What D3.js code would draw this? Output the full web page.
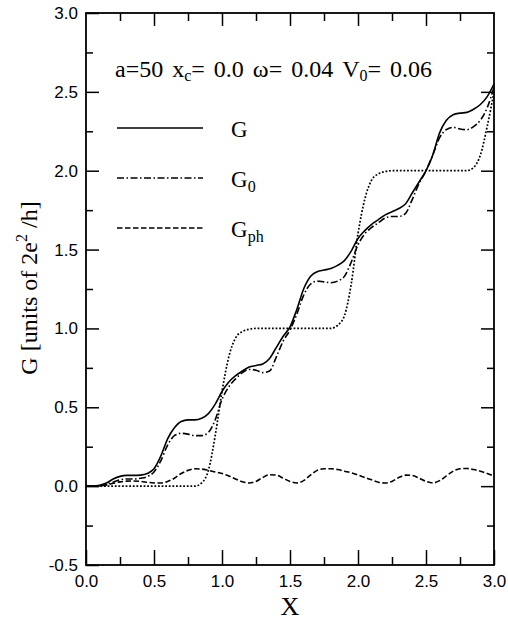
<!DOCTYPE html>
<html>
<head>
<meta charset="utf-8">
<script src="https://cdn.jsdelivr.net/npm/d3@7/dist/d3.min.js"></script>
<style>
html,body{margin:0;padding:0;background:#fff;}
svg{display:block;}
</style>
</head>
<body>
<svg id="chart" width="508" height="621"></svg>
<script>
const xValues = d3.range(0, 61).map(i => +(i * 0.05).toFixed(2));

const seriesG = [0,0,0.005,0.02,0.045,0.062,0.068,0.068,0.07,0.08,
  0.11,0.19,0.30,0.37,0.41,0.42,0.42,0.43,0.46,0.52,
  0.60,0.66,0.70,0.73,0.755,0.765,0.775,0.81,0.88,0.95,
  1.01,1.12,1.25,1.33,1.36,1.37,1.38,1.40,1.43,1.49,
  1.57,1.62,1.66,1.69,1.72,1.74,1.76,1.79,1.86,1.93,
  2.00,2.10,2.24,2.32,2.355,2.365,2.37,2.39,2.42,2.47,2.55];

const seriesG0 = [0,0,0.003,0.01,0.025,0.04,0.045,0.045,0.05,0.06,
  0.09,0.16,0.26,0.32,0.335,0.33,0.32,0.32,0.34,0.42,
  0.55,0.63,0.68,0.72,0.74,0.735,0.72,0.73,0.82,0.92,
  0.99,1.09,1.21,1.28,1.30,1.295,1.29,1.30,1.33,1.42,
  1.53,1.60,1.64,1.67,1.70,1.71,1.71,1.73,1.82,1.92,
  2.00,2.10,2.21,2.26,2.275,2.265,2.26,2.28,2.32,2.40,2.53];

const seriesGph = [0,0,0.002,0.008,0.018,0.027,0.032,0.033,0.03,0.025,
  0.02,0.02,0.03,0.05,0.08,0.10,0.11,0.108,0.10,0.09,
  0.08,0.065,0.045,0.028,0.02,0.03,0.055,0.072,0.07,0.05,
  0.03,0.02,0.035,0.07,0.10,0.11,0.11,0.105,0.095,0.085,
  0.07,0.055,0.04,0.025,0.02,0.03,0.055,0.07,0.068,0.05,
  0.03,0.02,0.035,0.065,0.095,0.11,0.112,0.105,0.095,0.08,0.065];

const seriesDotted = [0,0,0,0,0,0,0,0,0,0,
  0,0,0,0,0,0,0,0.02,0.10,0.32,
  0.60,0.82,0.94,0.98,0.995,1,1,1,1,1,
  1,1,1,1,1,1,1,1.02,1.08,1.28,
  1.60,1.82,1.94,1.98,1.995,2,2,2,2,2,
  2,2,2,2,2,2,2,2.02,2.10,2.28,2.50];

const xTicks = [0, 0.5, 1.0, 1.5, 2.0, 2.5, 3.0];
const yTicks = [-0.5, 0, 0.5, 1.0, 1.5, 2.0, 2.5, 3.0];
const xMinor = [0.25, 0.75, 1.25, 1.75, 2.25, 2.75];
const yMinor = [-0.25, 0.25, 0.75, 1.25, 1.75, 2.25, 2.75];

const legendItems = [
  {name: "G", sub: "", values: seriesG, dash: null},
  {name: "G", sub: "0", values: seriesG0, dash: "7,2.5,1.5,2.5"},
  {name: "G", sub: "ph", values: seriesGph, dash: "5.5,2.5"}
];

const L = 86, R = 494, T = 13, B = 565;
const svg = d3.select("#chart");
const x = d3.scaleLinear().domain([0, 3]).range([L, R]);
const y = d3.scaleLinear().domain([-0.5, 3]).range([B, T]);
const fmt = d => d3.format(".1f")(d).replace("\u2212", "-");

// axes
const tickFont = "'Liberation Sans', Arial, sans-serif";
svg.append("g").attr("transform", `translate(0,${B})`)
  .call(d3.axisBottom(x).tickValues(xTicks).tickFormat(fmt).tickSizeInner(-15).tickSizeOuter(0).tickPadding(10));
svg.append("g").attr("transform", `translate(0,${T})`)
  .call(d3.axisTop(x).tickValues(xTicks.slice(1, -1)).tickFormat("").tickSizeInner(-13).tickSizeOuter(0));
svg.append("g").attr("transform", `translate(${L},0)`)
  .call(d3.axisLeft(y).tickValues(yTicks).tickFormat(fmt).tickSizeInner(-13).tickSizeOuter(0).tickPadding(8));
svg.append("g").attr("transform", `translate(${R},0)`)
  .call(d3.axisRight(y).tickValues(yTicks.slice(1, -1)).tickFormat("").tickSizeInner(-13).tickSizeOuter(0));
// minor ticks
svg.append("g").attr("transform", `translate(0,${B})`)
  .call(d3.axisBottom(x).tickValues(xMinor).tickFormat("").tickSizeInner(-8).tickSizeOuter(0));
svg.append("g").attr("transform", `translate(0,${T})`)
  .call(d3.axisTop(x).tickValues(xMinor).tickFormat("").tickSizeInner(-8).tickSizeOuter(0));
svg.append("g").attr("transform", `translate(${L},0)`)
  .call(d3.axisLeft(y).tickValues(yMinor).tickFormat("").tickSizeInner(-7).tickSizeOuter(0));
svg.append("g").attr("transform", `translate(${R},0)`)
  .call(d3.axisRight(y).tickValues(yMinor).tickFormat("").tickSizeInner(-7).tickSizeOuter(0));

svg.selectAll(".domain").remove();
svg.selectAll(".tick line").attr("stroke", "#000").attr("stroke-width", 1.5);
svg.selectAll(".tick text").attr("font-family", tickFont).attr("font-size", 17).attr("fill", "#000");

svg.append("rect").attr("x", L).attr("y", T).attr("width", R - L).attr("height", B - T)
  .attr("fill", "none").attr("stroke", "#000").attr("stroke-width", 1.8);

// curves
const line = d3.line().x((d, i) => x(xValues[i])).y(d => y(d)).curve(d3.curveMonotoneX);
const plotG = svg.append("g");
plotG.append("path").datum(seriesDotted).attr("d", line)
  .attr("fill", "none").attr("stroke", "#000").attr("stroke-width", 1.7).attr("stroke-dasharray", "1.8,1.8");
legendItems.slice().reverse().forEach(s => {
  plotG.append("path").datum(s.values).attr("d", line)
    .attr("fill", "none").attr("stroke", "#000").attr("stroke-width", 1.6)
    .attr("stroke-dasharray", s.dash);
});

// legend
const serif = "'Liberation Serif', 'Times New Roman', serif";
legendItems.forEach((s, i) => {
  const ly = 128 + i * 50;
  svg.append("line").attr("x1", 117).attr("x2", 203).attr("y1", ly).attr("y2", ly)
    .attr("stroke", "#000").attr("stroke-width", 1.6).attr("stroke-dasharray", s.dash);
  const t = svg.append("text").attr("x", 231).attr("y", ly + 9)
    .attr("font-family", serif).attr("font-size", 23).attr("fill", "#000");
  t.append("tspan").text(s.name);
  if (s.sub) t.append("tspan").attr("font-size", 16).attr("dy", 5).text(s.sub);
});

// parameter annotation
const ann = svg.append("text").attr("x", 115).attr("y", 77)
  .attr("font-family", serif).attr("font-size", 24).attr("word-spacing", 3).attr("fill", "#000");
ann.append("tspan").text("a=50 x");
ann.append("tspan").attr("font-size", 16).attr("dy", 4).text("c");
ann.append("tspan").attr("dy", -4).text("= 0.0 \u03c9= 0.04 V");
ann.append("tspan").attr("font-size", 16).attr("dy", 4).text("0");
ann.append("tspan").attr("dy", -4).text("= 0.06");

// axis titles
svg.append("text").attr("x", 290).attr("y", 615).attr("text-anchor", "middle")
  .attr("font-family", serif).attr("font-size", 26).attr("fill", "#000").text("X");

const yl = svg.append("text").attr("transform", "translate(37,288) rotate(-90)")
  .attr("text-anchor", "middle").attr("font-family", serif).attr("font-size", 24).attr("fill", "#000");
yl.append("tspan").text("G [units of 2e");
yl.append("tspan").attr("font-size", 16).attr("dy", -10).text("2");
yl.append("tspan").attr("dy", 10).text(" /h]");
</script>
</body>
</html>
